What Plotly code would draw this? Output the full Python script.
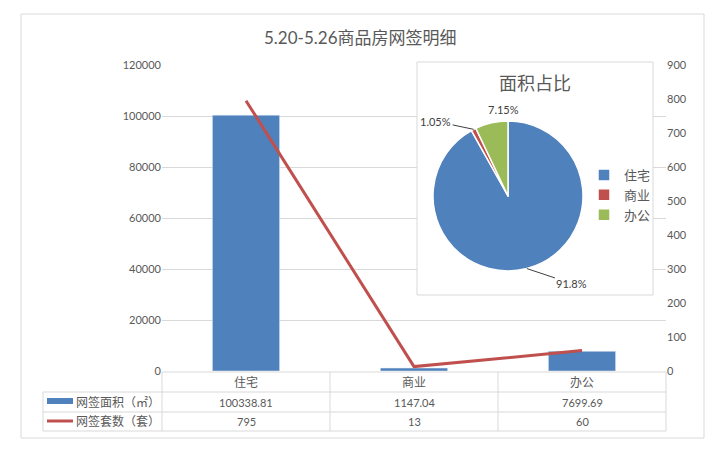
import math
import plotly.graph_objects as go

# data
categories = ["住宅", "商业", "办公"]
area = [100338.81, 1147.04, 7699.69]
units = [795, 13, 60]
area_text = ["100338.81", "1147.04", "7699.69"]
units_text = ["795", "13", "60"]
pie_pct = ["91.8%", "1.05%", "7.15%"]
series_names = ["网签面积（㎡）", "网签套数（套）"]

blue = "#4F81BD"
red = "#C0504D"
green = "#9BBB59"
grey = "#D9D9D9"
txt = "#595959"
font_family = "Lato, Noto Sans CJK SC"

# page has an 8px body margin, so work in screenshot pixels and shift
OFF = 8
W, H = 703, 442
L, R, T, B = 162, 666, 65, 371  # plot area in screenshot pixels

# pie placement (screenshot pixels)
PCX, PCY, PR = 508, 196, 75


def px(x):
    return (x - L) / (R - L)


def py(y):
    return (B - y) / (B - T)


def cx_(x):
    # screenshot x -> category axis units
    return (x - L) / ((R - L) / 3) - 0.5


def vy_(y):
    # screenshot y -> left axis value
    return (B - y) / (B - T) * 120000


fig = go.Figure()

fig.add_trace(go.Bar(
    x=categories, y=area, marker_color=blue, width=0.4,
    name=series_names[0], showlegend=False
))
fig.add_trace(go.Scatter(
    x=categories, y=units, yaxis="y2", mode="lines",
    line=dict(color=red, width=3), name=series_names[1], showlegend=False
))

fig.add_trace(go.Pie(
    labels=categories, values=area,
    textinfo="none",
    marker=dict(colors=[blue, red, green], line=dict(color="white", width=1.5)),
    sort=False, direction="clockwise", rotation=0,
    domain=dict(x=[px(PCX - PR), px(PCX + PR)], y=[py(PCY + PR), py(PCY - PR)]),
    hoverinfo="label+percent"
))

shapes = []
# outer chart border
shapes.append(dict(type="rect", xref="paper", yref="paper",
                   x0=px(21), x1=px(704), y0=py(438), y1=py(14),
                   line=dict(color=grey, width=1), layer="below"))
# pie inset box: white fill between gridlines and traces, outline on top
shapes.append(dict(type="rect", xref="x", yref="y",
                   x0=cx_(417), x1=cx_(653), y0=vy_(295), y1=vy_(60),
                   line=dict(width=0), fillcolor="white", layer="between"))
shapes.append(dict(type="rect", xref="paper", yref="paper",
                   x0=px(417), x1=px(653), y0=py(295), y1=py(62),
                   line=dict(color=grey, width=1), layer="above"))

# data table grid
row_y = [372, 392, 412, 431]
col_x = [L + i * (R - L) / 3 for i in range(4)]
for i, yy in enumerate(row_y):
    x_start = L if i == 0 else 43
    shapes.append(dict(type="line", xref="paper", yref="paper",
                       x0=px(x_start), x1=px(R), y0=py(yy), y1=py(yy),
                       line=dict(color=grey, width=1)))
shapes.append(dict(type="line", xref="paper", yref="paper",
                   x0=px(43), x1=px(43), y0=py(392), y1=py(431),
                   line=dict(color=grey, width=1)))
for xx in col_x:
    shapes.append(dict(type="line", xref="paper", yref="paper",
                       x0=px(xx), x1=px(xx), y0=py(372), y1=py(431),
                       line=dict(color=grey, width=1)))
# legend keys in table
shapes.append(dict(type="rect", xref="paper", yref="paper",
                   x0=px(47), x1=px(73), y0=py(404), y1=py(398),
                   fillcolor=blue, line=dict(width=0)))
shapes.append(dict(type="line", xref="paper", yref="paper",
                   x0=px(47), x1=px(73), y0=py(421), y1=py(421),
                   line=dict(color=red, width=3)))

annotations = []


def note(text, x, y, size=11, xanchor="center", **kw):
    annotations.append(dict(text=text, x=x, y=y, xref="paper", yref="paper",
                            xanchor=xanchor, yanchor="middle", showarrow=False,
                            font=dict(family=font_family, size=size, color=txt), **kw))


for i, c in enumerate(categories):
    cx = px((col_x[i] + col_x[i + 1]) / 2)
    note(c, cx, py(382), size=12)
    note(area_text[i], cx, py(402))
    note(units_text[i], cx, py(421.5))
for j, name in enumerate(series_names):
    note(name, px(74), py(402 + j * 19.5), size=12, xanchor="left")

# titles
note("5.20-5.26商品房网签明细", px(360), py(37), size=17)
note("面积占比", px(535), py(83), size=18)

# pie data labels, placed from the slice mid-angles
total = sum(area)
label_offsets = [(45, 15, True), (-38, -8, True), (12, -22, False)]
cum = 0.0
for v, lab, (dx, dy, arrow) in zip(area, pie_pct, label_offsets):
    mid = (cum + v / 2) / total * 2 * math.pi
    cum += v
    ex = PCX + PR * math.sin(mid)
    ey = PCY - PR * math.cos(mid)
    if arrow:
        annotations.append(dict(text=lab, x=px(ex), y=py(ey), xref="paper", yref="paper",
                                showarrow=True, arrowhead=0, arrowwidth=1, arrowcolor="#404040",
                                ax=dx, ay=dy, standoff=0,
                                font=dict(family=font_family, size=11, color="#404040")))
    else:
        annotations.append(dict(text=lab, x=px(ex), y=py(ey), xref="paper", yref="paper",
                                showarrow=False, xshift=dx, yshift=-dy,
                                font=dict(family=font_family, size=11, color="#404040")))

fig.update_layout(
    width=W, height=H,
    margin=dict(l=L - OFF, r=W - (R - OFF), t=T - OFF, b=H - (B - OFF)),
    paper_bgcolor="white", plot_bgcolor="white",
    font=dict(family=font_family, size=11, color=txt),
    xaxis=dict(showticklabels=False, showgrid=False, zeroline=False,
               showline=False, ticks="", range=[-0.5, 2.5]),
    yaxis=dict(range=[0, 120000], dtick=20000, tickformat="d", showgrid=True,
               gridcolor=grey, zeroline=False, showline=False, ticks="",
               tickfont=dict(size=11, color=txt)),
    yaxis2=dict(range=[0, 900], dtick=100, overlaying="y", side="right",
                showgrid=False, zeroline=False, showline=False, ticks="",
                tickfont=dict(size=11, color=txt)),
    legend=dict(x=px(584), y=py(195), xref="paper", yref="paper", yanchor="middle",
                xanchor="left", bgcolor="rgba(0,0,0,0)",
                font=dict(family=font_family, size=13, color=txt),
                itemwidth=30),
    showlegend=True,
    shapes=shapes,
    annotations=annotations,
)

fig.write_html("out.html")
